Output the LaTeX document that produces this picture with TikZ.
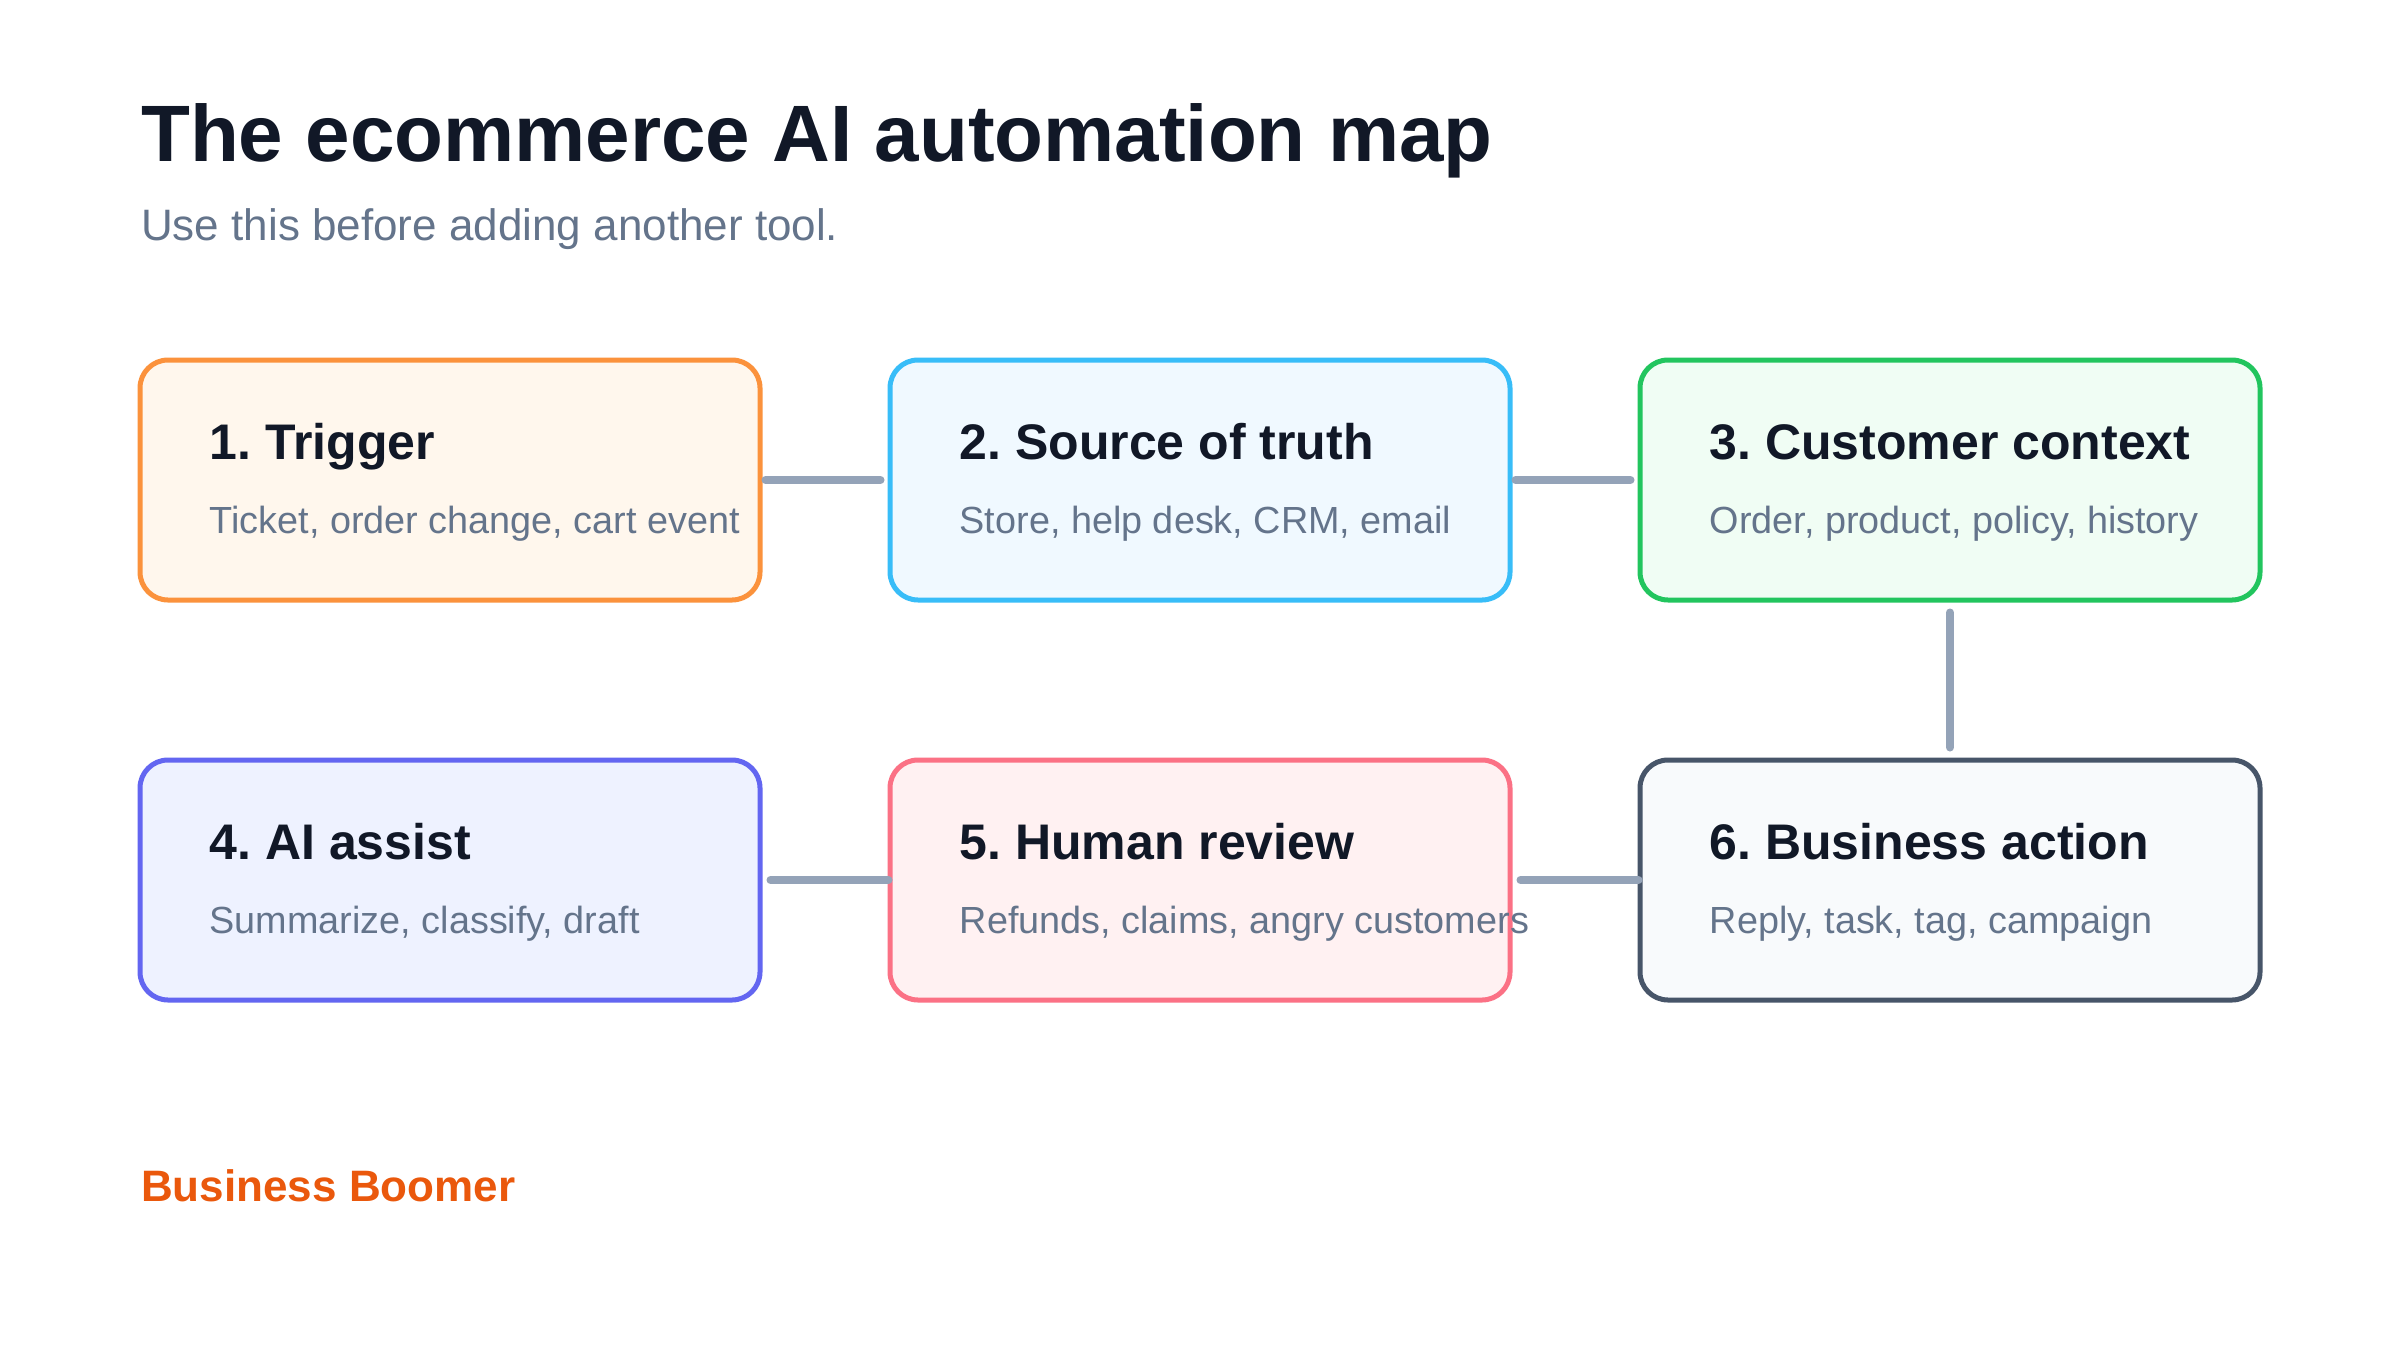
\documentclass[tikz,border=0pt]{standalone}
\usepackage{fontspec}
\setmainfont{Liberation Sans}
\usetikzlibrary{calc}
\frenchspacing
\definecolor{ink}{HTML}{111827}
\definecolor{muted}{HTML}{64748B}
\definecolor{conn}{HTML}{94A3B8}
\definecolor{brand}{HTML}{EA580C}
\definecolor{oB}{HTML}{FB923C}\definecolor{oF}{HTML}{FFF7ED}
\definecolor{sB}{HTML}{38BDF8}\definecolor{sF}{HTML}{F0F9FF}
\definecolor{gB}{HTML}{22C55E}\definecolor{gF}{HTML}{F0FDF4}
\definecolor{iB}{HTML}{6366F1}\definecolor{iF}{HTML}{EEF2FF}
\definecolor{rB}{HTML}{FB7185}\definecolor{rF}{HTML}{FFF1F2}
\definecolor{dB}{HTML}{475569}\definecolor{dF}{HTML}{F8FAFC}
\tikzset{
  card/.style={draw, rectangle, rounded corners=28pt, line width=5pt,
    minimum width=620pt, minimum height=240pt, inner sep=0pt},
  cardtitle/.style={anchor=base west, inner sep=0pt, text=ink,
    font=\fontsize{50}{60}\selectfont\bfseries},
  cardsub/.style={anchor=base west, inner sep=0pt, text=muted,
    font=\fontsize{37.8}{45}\selectfont},
  link/.style={draw=conn, line width=8pt, line cap=round}
}
\begin{document}
\begin{tikzpicture}[x=1pt,y=-1pt]
\useasboundingbox[fill=white] (0,0) rectangle (2400,1360);
\node[anchor=base west, inner sep=0pt, text=ink, font=\fontsize{80}{96}\selectfont\bfseries] (title) at (141,161) {The ecommerce AI automation map};
\node[anchor=base west, inner sep=0pt, text=muted, font=\fontsize{44}{53}\selectfont] (subtitle) at (141,240) {Use this before adding another tool.};

\node[card, draw=oB, fill=oF] (b1) at (450,480) {};
\node[card, draw=sB, fill=sF] (b2) at (1200,480) {};
\node[card, draw=gB, fill=gF] (b3) at (1950,480) {};
\node[card, draw=iB, fill=iF] (b4) at (450,880) {};
\node[card, draw=rB, fill=rF] (b5) at (1200,880) {};
\node[card, draw=dB, fill=dF] (b6) at (1950,880) {};

\draw[link, shorten <=3pt, shorten >=7pt] (b1.east) -- (b2.west);
\draw[link, shorten <=3pt, shorten >=7pt] (b2.east) -- (b3.west);
\draw[link, shorten <=10pt, shorten >=10pt] (b3.south) -- (b6.north);
\draw[link, shorten <=8pt, shorten >=-1pt] (b4.east) -- (b5.west);
\draw[link, shorten <=8pt, shorten >=-1pt] (b5.east) -- (b6.west);

\node[cardtitle] (t1) at ($(b1.north west)+(72,102)$) {1. Trigger};
\node[cardsub] (s1) at ($(b1.north west)+(72,176)$) {Ticket, order change, cart event};
\node[cardtitle] (t2) at ($(b2.north west)+(72,102)$) {2. Source of truth};
\node[cardsub] (s2) at ($(b2.north west)+(72,176)$) {Store, help desk, CRM, email};
\node[cardtitle] (t3) at ($(b3.north west)+(72,102)$) {3. Customer context};
\node[cardsub] (s3) at ($(b3.north west)+(72,176)$) {Order, product, policy, history};
\node[cardtitle] (t4) at ($(b4.north west)+(72,102)$) {4. AI assist};
\node[cardsub] (s4) at ($(b4.north west)+(72,176)$) {Summarize, classify, draft};
\node[cardtitle] (t5) at ($(b5.north west)+(72,102)$) {5. Human review};
\node[cardsub] (s5) at ($(b5.north west)+(72,176)$) {Refunds, claims, angry customers};
\node[cardtitle] (t6) at ($(b6.north west)+(72,102)$) {6. Business action};
\node[cardsub] (s6) at ($(b6.north west)+(72,176)$) {Reply, task, tag, campaign};

\node[anchor=base west, inner sep=0pt, text=brand, font=\fontsize{44}{53}\selectfont\bfseries] (brandname) at (141,1201) {Business Boomer};
\end{tikzpicture}
\end{document}
